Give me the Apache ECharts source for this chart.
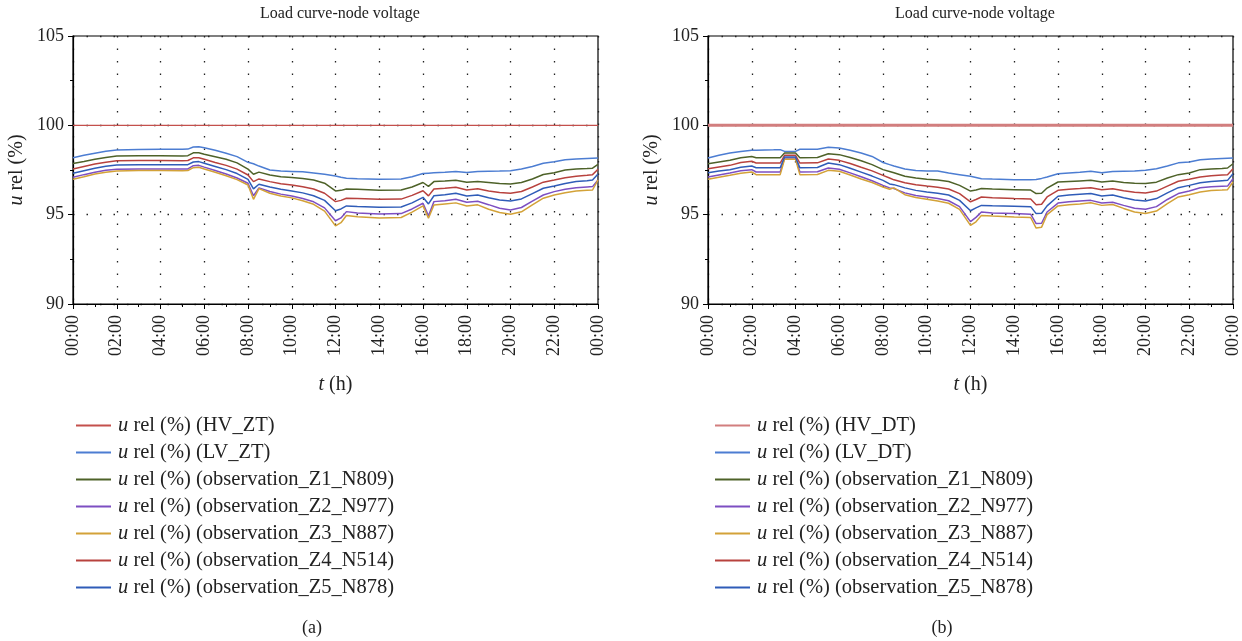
<!DOCTYPE html>
<html>
<head>
<meta charset="utf-8">
<title>Load curve-node voltage</title>
<script src="https://cdn.jsdelivr.net/npm/echarts@6/dist/echarts.min.js"></script>
<style>
  html, body { margin: 0; padding: 0; background: #fff; }
  #main { width: 1242px; height: 641px; }
</style>
</head>
<body>
<div id="main"></div>
<script>
// time axis (hours) of chart (a) and chart (b)
var hoursA = [0, 0.5, 1, 1.5, 2, 3, 4, 5, 5.25, 5.5, 5.75, 6, 6.5, 7, 7.5, 8, 8.25, 8.5, 9, 9.5, 10, 10.5, 11, 11.5, 12, 12.25, 12.5, 13, 14, 15, 15.5, 16, 16.25, 16.5, 17, 17.5, 18, 18.5, 19, 19.5, 20, 20.5, 21, 21.5, 22, 22.5, 23, 23.5, 23.75, 24];
var hoursB = [0, 0.5, 1, 1.5, 2, 2.2, 3, 3.3, 3.5, 4, 4.2, 5, 5.5, 6, 6.5, 7, 7.5, 8, 8.3, 8.5, 9, 9.5, 10, 10.5, 11, 11.5, 12, 12.25, 12.5, 13, 14, 14.75, 15, 15.25, 15.5, 16, 16.5, 17, 17.5, 18, 18.5, 19, 19.5, 20, 20.5, 21, 21.5, 22, 22.5, 23, 23.5, 23.75, 24];

// HV side is flat at 100 %
var hvHours = [0, 24];
var hvA = [100, 100];
var hvB = [100, 100];

// chart (a) - ZT
var lvA = [98.19, 98.32, 98.44, 98.55, 98.62, 98.65, 98.66, 98.66, 98.67, 98.79, 98.8, 98.75, 98.6, 98.44, 98.25, 97.93, 97.85, 97.72, 97.5, 97.44, 97.42, 97.4, 97.33, 97.26, 97.17, 97.1, 97.04, 97.01, 96.98, 97.0, 97.12, 97.3, 97.32, 97.34, 97.37, 97.42, 97.36, 97.42, 97.43, 97.44, 97.46, 97.56, 97.7, 97.88, 97.96, 98.07, 98.12, 98.15, 98.16, 98.17];
var z1A = [97.87, 97.98, 98.1, 98.2, 98.28, 98.3, 98.3, 98.29, 98.3, 98.46, 98.47, 98.38, 98.24, 98.1, 97.9, 97.55, 97.26, 97.38, 97.22, 97.12, 97.08, 97.02, 96.94, 96.76, 96.33, 96.36, 96.44, 96.42, 96.37, 96.38, 96.55, 96.8, 96.58, 96.85, 96.88, 96.93, 96.82, 96.86, 96.8, 96.74, 96.71, 96.8, 97.0, 97.25, 97.35, 97.5, 97.55, 97.58, 97.6, 97.82];
var z2A = [97.09, 97.24, 97.38, 97.48, 97.54, 97.56, 97.56, 97.55, 97.56, 97.74, 97.76, 97.66, 97.47, 97.28, 97.05, 96.76, 96.06, 96.5, 96.3, 96.15, 96.04, 95.9, 95.72, 95.38, 94.66, 94.82, 95.17, 95.1, 95.04, 95.06, 95.32, 95.64, 94.93, 95.73, 95.78, 95.86, 95.69, 95.75, 95.56, 95.36, 95.26, 95.4, 95.76, 96.1, 96.29, 96.42, 96.5, 96.55, 96.57, 96.94];
var z3A = [96.98, 97.12, 97.28, 97.38, 97.45, 97.47, 97.47, 97.46, 97.47, 97.63, 97.65, 97.56, 97.37, 97.18, 96.96, 96.66, 95.86, 96.46, 96.2, 96.05, 95.94, 95.78, 95.58, 95.2, 94.37, 94.55, 94.95, 94.88, 94.81, 94.84, 95.14, 95.49, 94.8, 95.54, 95.6, 95.66, 95.49, 95.55, 95.3, 95.12, 95.02, 95.16, 95.55, 95.92, 96.1, 96.23, 96.32, 96.36, 96.38, 96.94];
var z4A = [97.56, 97.7, 97.83, 97.94, 98.02, 98.03, 98.03, 98.02, 98.03, 98.18, 98.19, 98.1, 97.92, 97.76, 97.55, 97.22, 96.85, 97.0, 96.85, 96.73, 96.66, 96.56, 96.44, 96.2, 95.73, 95.8, 95.92, 95.9, 95.86, 95.87, 96.08, 96.34, 96.05, 96.44, 96.48, 96.54, 96.38, 96.45, 96.33, 96.24, 96.2, 96.3, 96.55, 96.82, 96.94, 97.07, 97.15, 97.2, 97.24, 97.54];
var z5A = [97.32, 97.46, 97.6, 97.71, 97.78, 97.8, 97.8, 97.79, 97.8, 97.95, 97.97, 97.88, 97.7, 97.52, 97.3, 96.98, 96.44, 96.7, 96.55, 96.42, 96.33, 96.22, 96.06, 95.8, 95.22, 95.32, 95.49, 95.46, 95.41, 95.43, 95.66, 95.97, 95.6, 96.06, 96.12, 96.2, 96.04, 96.1, 95.95, 95.82, 95.76, 95.88, 96.18, 96.48, 96.6, 96.75, 96.85, 96.9, 96.94, 97.28];

// chart (b) - DT
var lvB = [98.17, 98.32, 98.45, 98.54, 98.6, 98.61, 98.63, 98.64, 98.54, 98.54, 98.66, 98.66, 98.77, 98.73, 98.6, 98.45, 98.26, 97.92, 97.8, 97.72, 97.56, 97.47, 97.44, 97.44, 97.33, 97.24, 97.15, 97.08, 97.01, 96.99, 96.96, 96.96, 96.97, 97.03, 97.11, 97.29, 97.33, 97.37, 97.43, 97.35, 97.41, 97.43, 97.45, 97.48, 97.57, 97.72, 97.9, 97.95, 98.07, 98.12, 98.15, 98.16, 98.17];
var z1B = [97.85, 97.95, 98.04, 98.18, 98.26, 98.19, 98.19, 98.19, 98.45, 98.45, 98.19, 98.2, 98.41, 98.36, 98.2, 98.02, 97.8, 97.52, 97.42, 97.35, 97.15, 97.05, 96.98, 96.94, 96.86, 96.64, 96.32, 96.38, 96.46, 96.43, 96.4, 96.38, 96.18, 96.2, 96.49, 96.83, 96.86, 96.89, 96.92, 96.83, 96.88, 96.8, 96.76, 96.74, 96.82, 97.05, 97.24, 97.33, 97.52, 97.56, 97.59, 97.61, 97.85];
var z2B = [97.11, 97.22, 97.33, 97.46, 97.52, 97.39, 97.39, 97.39, 98.17, 98.17, 97.39, 97.4, 97.61, 97.54, 97.34, 97.12, 96.9, 96.64, 96.5, 96.46, 96.22, 96.07, 95.99, 95.9, 95.78, 95.45, 94.61, 94.85, 95.15, 95.1, 95.06, 95.03, 94.5, 94.52, 95.15, 95.65, 95.72, 95.76, 95.8, 95.65, 95.7, 95.52, 95.36, 95.3, 95.45, 95.85, 96.18, 96.32, 96.51, 96.56, 96.59, 96.6, 97.01];
var z3B = [96.98, 97.1, 97.2, 97.32, 97.39, 97.24, 97.24, 97.24, 98.1, 98.1, 97.24, 97.25, 97.48, 97.43, 97.22, 97.0, 96.8, 96.55, 96.42, 96.5, 96.12, 95.96, 95.86, 95.76, 95.64, 95.3, 94.4, 94.6, 94.96, 94.92, 94.87, 94.84, 94.25, 94.3, 95.0, 95.49, 95.56, 95.6, 95.67, 95.52, 95.57, 95.35, 95.15, 95.06, 95.2, 95.62, 95.99, 96.12, 96.27, 96.35, 96.38, 96.4, 96.83];
var z4B = [97.57, 97.67, 97.76, 97.92, 97.99, 97.89, 97.89, 97.89, 98.32, 98.32, 97.89, 97.9, 98.12, 98.04, 97.86, 97.65, 97.45, 97.2, 97.05, 96.95, 96.79, 96.68, 96.6, 96.54, 96.44, 96.18, 95.72, 95.85, 95.99, 95.95, 95.9, 95.88, 95.56, 95.58, 95.99, 96.36, 96.42, 96.46, 96.51, 96.4, 96.45, 96.34, 96.26, 96.21, 96.32, 96.6, 96.87, 96.98, 97.11, 97.18, 97.22, 97.24, 97.57];
var z5B = [97.35, 97.44, 97.52, 97.65, 97.72, 97.63, 97.63, 97.63, 98.23, 98.23, 97.63, 97.64, 97.89, 97.8, 97.6, 97.38, 97.16, 96.92, 96.72, 96.68, 96.5, 96.36, 96.27, 96.2, 96.1, 95.8, 95.22, 95.38, 95.52, 95.5, 95.47, 95.45, 95.06, 95.08, 95.49, 96.03, 96.1, 96.14, 96.18, 96.04, 96.1, 95.95, 95.82, 95.76, 95.9, 96.22, 96.51, 96.64, 96.79, 96.86, 96.9, 96.92, 97.29];

var xTicks = [0, 2, 4, 6, 8, 10, 12, 14, 16, 18, 20, 22, 24];
var yTicks = [90, 95, 100, 105];

var obsNames = [
  'u rel (%) (observation_Z1_N809)',
  'u rel (%) (observation_Z2_N977)',
  'u rel (%) (observation_Z3_N887)',
  'u rel (%) (observation_Z4_N514)',
  'u rel (%) (observation_Z5_N878)'
];

var FONT = '"Liberation Serif", "DejaVu Serif", serif';
var colHV = '#c4504c';
var colLV = '#4c7dd2';
var colZ = ['#4e6229', '#7d4fc2', '#d3a238', '#b8423e', '#2f5cb8'];

var chart = echarts.init(document.getElementById('main'));

// pair up hours and values
function pts(hours, vals) {
  var out = [];
  for (var i = 0; i < hours.length; i++) {
    out.push([hours[i], vals[i]]);
  }
  return out;
}

function hhmm(v) {
  var h = Math.round(v) % 24;
  return (h < 10 ? '0' + h : '' + h) + ':00';
}

function mkGrid(left) {
  return {
    left: left, top: 36, width: 525, height: 268,
    show: true, borderColor: '#000', borderWidth: 1.2, backgroundColor: 'transparent'
  };
}

function mkX(idx) {
  return {
    gridIndex: idx,
    type: 'value',
    min: xTicks[0], max: xTicks[xTicks.length - 1], interval: 2,
    name: '{i|t} (h)',
    nameLocation: 'middle',
    nameGap: 71,
    nameTextStyle: {
      fontFamily: FONT, fontSize: 20, color: '#222',
      rich: { i: { fontFamily: FONT, fontSize: 20, fontStyle: 'italic', color: '#222' } }
    },
    axisLine: { lineStyle: { color: '#000', width: 1.2 } },
    axisTick: { show: true, length: 5, lineStyle: { color: '#000' } },
    minorTick: { show: true, splitNumber: 2, length: 3, lineStyle: { color: '#000' } },
    axisLabel: {
      rotate: 90, margin: 11, fontFamily: FONT, fontSize: 18, color: '#222',
      formatter: hhmm, showMaxLabel: true, showMinLabel: true
    },
    splitLine: { show: true, lineStyle: { color: '#222', type: [1.5, 11], width: 1.3 } }
  };
}

function mkY(idx) {
  return {
    gridIndex: idx,
    type: 'value',
    min: yTicks[0], max: yTicks[yTicks.length - 1], interval: 5,
    name: '{i|u} rel (%)',
    nameLocation: 'middle',
    nameGap: 46,
    nameTextStyle: {
      fontFamily: FONT, fontSize: 20, color: '#222',
      rich: { i: { fontFamily: FONT, fontSize: 20, fontStyle: 'italic', color: '#222' } }
    },
    axisLine: { show: true, lineStyle: { color: '#000', width: 1.2 } },
    axisTick: { show: true, length: 5, lineStyle: { color: '#000' } },
    minorTick: { show: true, splitNumber: 2, length: 3, lineStyle: { color: '#000' } },
    axisLabel: { margin: 9, fontFamily: FONT, fontSize: 18, color: '#222' },
    splitLine: { show: true, lineStyle: { color: '#222', type: [1.5, 12], width: 1.3 } }
  };
}

function line(name, idx, hours, vals, color, width) {
  return {
    name: name,
    type: 'line',
    xAxisIndex: idx, yAxisIndex: idx,
    data: pts(hours, vals),
    symbol: 'none',
    lineStyle: { color: color, width: width || 1.5 },
    itemStyle: { color: color },
    z: 3
  };
}

function mkLegend(left, names) {
  return {
    orient: 'vertical',
    left: left, top: 410,
    icon: 'rect', itemWidth: 35, itemHeight: 2, itemGap: 6,
    data: names,
    formatter: function (n) { return '{i|u}' + n.slice(1); },
    textStyle: {
      fontFamily: FONT, fontSize: 20.5, color: '#222', lineHeight: 20, padding: [0, 0, 0, 2],
      rich: { i: { fontFamily: FONT, fontSize: 20.5, fontStyle: 'italic', color: '#222', lineHeight: 20 } }
    },
    selectedMode: false
  };
}

var series = [];
series.push(line('u rel (%) (HV_ZT)', 0, hvHours, hvA, colHV, 1.2));
series.push(line('u rel (%) (LV_ZT)', 0, hoursA, lvA, colLV));
var dataA = [z1A, z2A, z3A, z4A, z5A];
for (var i = 0; i < 5; i++) series.push(line(obsNames[i], 0, hoursA, dataA[i], colZ[i]));

series.push(line('u rel (%) (HV_DT)', 1, hvHours, hvB, '#d27e7e', 3));
series.push(line('u rel (%) (LV_DT)', 1, hoursB, lvB, colLV));
var dataB = [z1B, z2B, z3B, z4B, z5B];
for (var j = 0; j < 5; j++) series.push(line(obsNames[j], 1, hoursB, dataB[j], colZ[j]));

var option = {
  backgroundColor: '#fff',
  animation: false,
  title: [
    { text: 'Load curve-node voltage', left: 335, top: 1, textAlign: 'center',
      textStyle: { fontFamily: FONT, fontSize: 16, fontWeight: 'normal', color: '#222' } },
    { text: 'Load curve-node voltage', left: 970, top: 1, textAlign: 'center',
      textStyle: { fontFamily: FONT, fontSize: 16, fontWeight: 'normal', color: '#222' } },
    { text: '(a)', left: 307, top: 614, textAlign: 'center',
      textStyle: { fontFamily: FONT, fontSize: 18, fontWeight: 'normal', color: '#222' } },
    { text: '(b)', left: 937, top: 614, textAlign: 'center',
      textStyle: { fontFamily: FONT, fontSize: 18, fontWeight: 'normal', color: '#222' } }
  ],
  grid: [mkGrid(73), mkGrid(708)],
  xAxis: [mkX(0), mkX(1)],
  yAxis: [mkY(0), mkY(1)],
  legend: [
    mkLegend(71, ['u rel (%) (HV_ZT)', 'u rel (%) (LV_ZT)'].concat(obsNames)),
    mkLegend(710, ['u rel (%) (HV_DT)', 'u rel (%) (LV_DT)'].concat(obsNames))
  ],
  series: series
};

chart.setOption(option);
window.addEventListener('resize', function () {
  chart.resize();
});
</script>
</body>
</html>
